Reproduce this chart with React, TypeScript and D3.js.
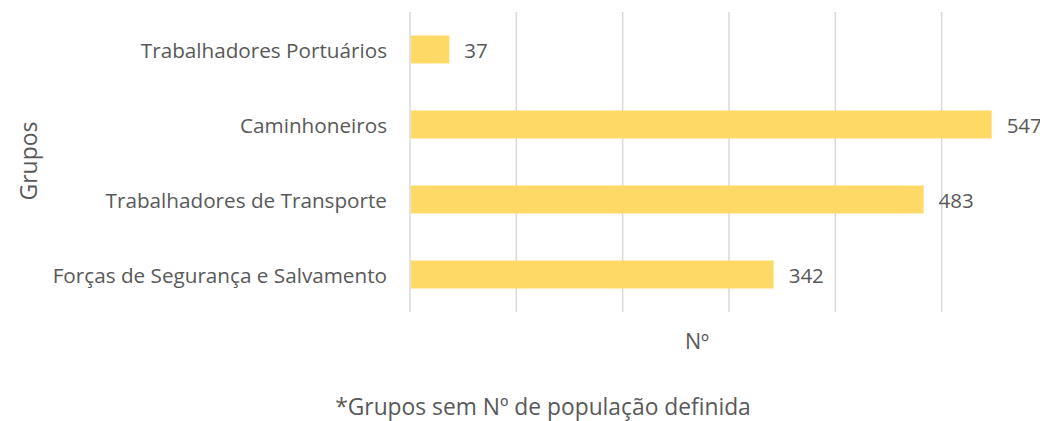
import React from "react";
import * as d3 from "d3";

const categories = [
  "Trabalhadores Portuários",
  "Caminhoneiros",
  "Trabalhadores de Transporte",
  "Forças de Segurança e Salvamento",
];
const values = [37, 547, 483, 342];
const xTicks = [0, 100, 200, 300, 400, 500, 600];
const xTitle = "Nº";
const yTitle = "Grupos";
const footnote = "*Grupos sem Nº de população definida";

const W = 1040;
const H = 421;
const FONT = "'Open Sans', sans-serif";
const TEXT = "#595959";

export default function App() {
  const x = d3.scaleLinear().domain([0, 600]).range([410, 1048]);
  const y = d3.scaleBand().domain(categories).range([12, 312]).paddingInner(0.627).paddingOuter(0.3135);
  const bh = y.bandwidth();
  return (
    <svg width={W} height={H} style={{ position: "absolute", left: 0, top: 0, background: "#fff" }}>
      {xTicks.map((t) => (
        <line key={t} x1={x(t)} x2={x(t)} y1={12} y2={312} stroke="#D9D9D9" strokeWidth={1.5} />
      ))}
      {categories.map((c, i) => (
        <g key={c}>
          <rect x={x(0) + 1} y={y(c)!} width={x(values[i]) - x(0) - 1} height={bh} fill="#FFD966" />
          <text x={387} y={y(c)! + bh / 2} textAnchor="end" dominantBaseline="central" fontFamily={FONT} fontSize={20.7} fill={TEXT}>
            {c}
          </text>
          <text x={x(values[i]) + 15} y={y(c)! + bh / 2} dominantBaseline="central" fontFamily={FONT} fontSize={20.5} fill={TEXT}>
            {values[i]}
          </text>
        </g>
      ))}
      <text x={697} y={340} textAnchor="middle" dominantBaseline="central" fontFamily={FONT} fontSize={21.5} fill={TEXT}>
        {xTitle}
      </text>
      <text transform="translate(28,161) rotate(-90)" textAnchor="middle" dominantBaseline="central" fontFamily={FONT} fontSize={23} fill={TEXT}>
        {yTitle}
      </text>
      <text x={543} y={406} textAnchor="middle" dominantBaseline="central" fontFamily={FONT} fontSize={22.8} fill={TEXT}>
        {footnote}
      </text>
    </svg>
  );
}
